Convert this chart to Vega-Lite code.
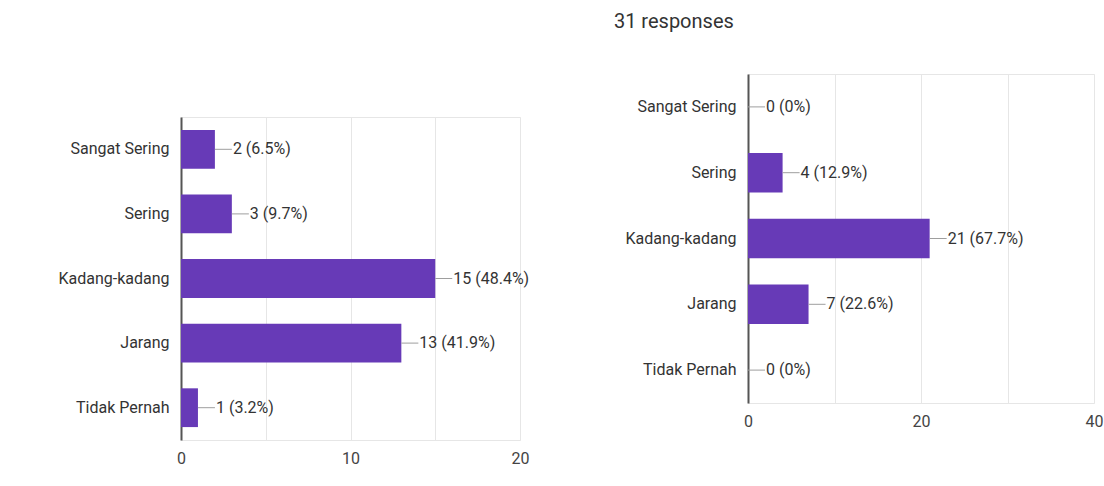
{
  "$schema": "https://vega.github.io/schema/vega-lite/v6.json",
  "background": "white",
  "padding": {"left": 57, "top": 11, "right": 0, "bottom": 0},
  "config": {
    "font": "Roboto",
    "view": {"stroke": "#e6e6e6"},
    "axisY": {"title": null, "domainColor": "#555555", "domainWidth": 2, "ticks": false, "labelPadding": 12, "labelFontSize": 16, "labelColor": "#333333", "labelFont": "Roboto", "grid": false},
    "axisX": {"title": null, "ticks": false, "domain": false, "gridColor": "#e6e6e6", "labelFontSize": 16, "labelColor": "#444444", "labelFont": "Roboto", "labelPadding": 10, "labelFlush": false}
  },
  "datasets": {
    "left": [
      {"category": "Sangat Sering", "count": 2, "label": "2 (6.5%)"},
      {"category": "Sering", "count": 3, "label": "3 (9.7%)"},
      {"category": "Kadang-kadang", "count": 15, "label": "15 (48.4%)"},
      {"category": "Jarang", "count": 13, "label": "13 (41.9%)"},
      {"category": "Tidak Pernah", "count": 1, "label": "1 (3.2%)"}
    ],
    "right": [
      {"category": "Sangat Sering", "count": 0, "label": "0 (0%)"},
      {"category": "Sering", "count": 4, "label": "4 (12.9%)"},
      {"category": "Kadang-kadang", "count": 21, "label": "21 (67.7%)"},
      {"category": "Jarang", "count": 7, "label": "7 (22.6%)"},
      {"category": "Tidak Pernah", "count": 0, "label": "0 (0%)"}
    ],
    "spacer": [{"gap": 0}]
  },
  "spacing": 83,
  "hconcat": [
    {
      "spacing": 0,
      "vconcat": [
        {
          "width": 339,
          "height": 42,
          "data": {"name": "spacer"},
          "view": {"stroke": null},
          "mark": {"type": "point", "opacity": 0},
          "encoding": {}
        },
        {
          "width": 339,
          "height": 323,
          "data": {"name": "left"},
          "encoding": {
            "y": {"field": "category", "type": "nominal", "sort": ["Sangat Sering", "Sering", "Kadang-kadang", "Jarang", "Tidak Pernah"], "scale": {"paddingInner": 0.4, "paddingOuter": 0.2}},
            "x": {"field": "count", "type": "quantitative", "scale": {"domain": [0, 20], "nice": false}, "axis": {"values": [0, 5, 10, 15, 20], "labelExpr": "datum.value % 10 === 0 ? datum.label : ''"}}
          },
          "layer": [
            {"mark": {"type": "bar", "color": "#673ab7"}},
            {"mark": {"type": "rule", "color": "#9e9e9e", "x2Offset": 17}, "encoding": {"x2": {"field": "count"}}},
            {"mark": {"type": "text", "align": "left", "baseline": "middle", "dx": 18, "fontSize": 16, "color": "#333333"}, "encoding": {"text": {"field": "label"}}}
          ]
        }
      ]
    },
    {
      "title": {"text": "31 responses", "fontSize": 20, "fontWeight": "normal", "color": "#333333", "anchor": "start", "frame": "bounds", "offset": 42, "dx": -11},
      "width": 346,
      "height": 329,
      "data": {"name": "right"},
      "encoding": {
        "y": {"field": "category", "type": "nominal", "sort": ["Sangat Sering", "Sering", "Kadang-kadang", "Jarang", "Tidak Pernah"], "scale": {"paddingInner": 0.4, "paddingOuter": 0.2}},
        "x": {"field": "count", "type": "quantitative", "scale": {"domain": [0, 40], "nice": false}, "axis": {"values": [0, 10, 20, 30, 40], "labelExpr": "datum.value % 20 === 0 ? datum.label : ''"}}
      },
      "layer": [
        {"mark": {"type": "bar", "color": "#673ab7"}},
        {"mark": {"type": "rule", "color": "#9e9e9e", "x2Offset": 17}, "encoding": {"x2": {"field": "count"}}},
        {"mark": {"type": "text", "align": "left", "baseline": "middle", "dx": 18, "fontSize": 16, "color": "#333333"}, "encoding": {"text": {"field": "label"}}}
      ]
    }
  ]
}
